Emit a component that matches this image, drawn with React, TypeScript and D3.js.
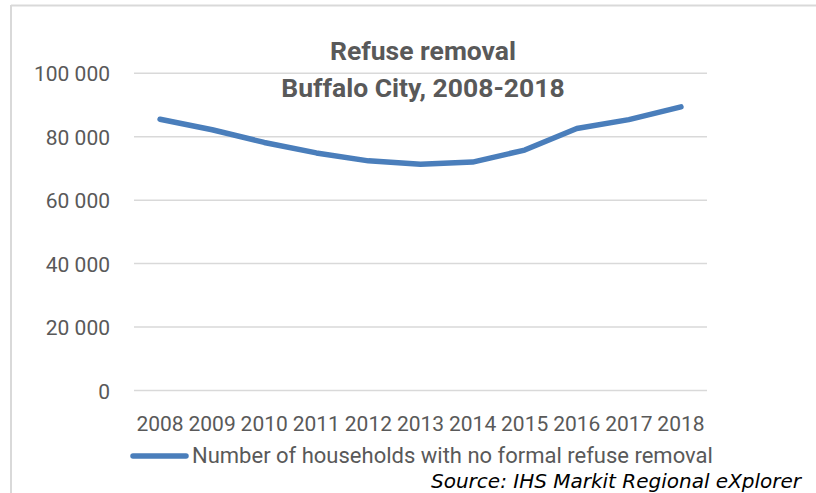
import React from "react";
import * as d3 from "d3";

const years: string[] = ["2008", "2009", "2010", "2011", "2012", "2013", "2014", "2015", "2016", "2017", "2018"];
const households: number[] = [85500, 82200, 78200, 74900, 72400, 71300, 72000, 75800, 82600, 85400, 89400];
const yTicks: number[] = [0, 20000, 40000, 60000, 80000, 100000];
const titleLines: string[] = ["Refuse removal", "Buffalo City, 2008-2018"];
const seriesName = "Number of households with no formal refuse removal";
const sourceText = "Source: IHS Markit Regional eXplorer";

const W = 816;
const H = 493;
const FONT = "Roboto, 'Open Sans', sans-serif";

export default function App() {
  const x = d3.scaleBand<string>().domain(years).range([134, 707]);
  const y = d3.scaleLinear().domain([0, 100000]).range([390.5, 73.3]);
  const cx = (yr: string) => (x(yr) as number) + x.bandwidth() / 2;
  const line = d3
    .line<number>()
    .x((_, i) => cx(years[i]))
    .y((d) => y(d));
  const fmt = (v: number) => d3.format(",")(v).replace(/,/g, " ");

  return (
    <svg
      width={W}
      height={H}
      style={{ position: "absolute", left: 0, top: 0, background: "#fff" }}
    >
      <rect x={0} y={0} width={W} height={H} fill="#fff" />
      {/* chart border */}
      <line x1={11} y1={5.5} x2={W} y2={5.5} stroke="#d9d9d9" strokeWidth={2} />
      <line x1={11} y1={5} x2={11} y2={H} stroke="#d9d9d9" strokeWidth={2} />

      {/* gridlines */}
      {yTicks.map((t) => (
        <line
          key={t}
          x1={134}
          x2={707}
          y1={y(t)}
          y2={y(t)}
          stroke="#d9d9d9"
          strokeWidth={1.5}
        />
      ))}
      {/* y labels */}
      {yTicks.map((t) => (
        <text
          key={"l" + t}
          x={110}
          y={y(t) + 8}
          textAnchor="end"
          fontFamily={FONT}
          fontSize={21}
          fill="#595959"
        >
          {fmt(t)}
        </text>
      ))}
      {/* x labels */}
      {years.map((yr) => (
        <text
          key={yr}
          x={cx(yr)}
          y={430.5}
          textAnchor="middle"
          fontFamily={FONT}
          fontSize={21}
          fill="#595959"
        >
          {yr}
        </text>
      ))}

      {/* series */}
      <path
        d={line(households) as string}
        fill="none"
        stroke="#4a7ebb"
        strokeWidth={5.5}
        strokeLinecap="round"
        strokeLinejoin="round"
      />

      {/* title */}
      {titleLines.map((t, i) => (
        <text
          key={t}
          x={423}
          y={60 + i * 36.5}
          textAnchor="middle"
          fontFamily={FONT}
          fontWeight="bold"
          fontSize={26.5}
          fill="#595959"
        >
          {t}
        </text>
      ))}

      {/* legend */}
      <line x1={133} x2={186} y1={456} y2={456} stroke="#4a7ebb" strokeWidth={5.5} strokeLinecap="round" />
      <text x={192} y={463} fontFamily={FONT} fontSize={22} fill="#595959">
        {seriesName}
      </text>

      {/* source */}
      <text
        x={431}
        y={488}
        fontFamily="'DejaVu Sans', Verdana, sans-serif"
        fontStyle="italic"
        fontSize={20}
        fill="#000"
      >
        {sourceText}
      </text>
    </svg>
  );
}
